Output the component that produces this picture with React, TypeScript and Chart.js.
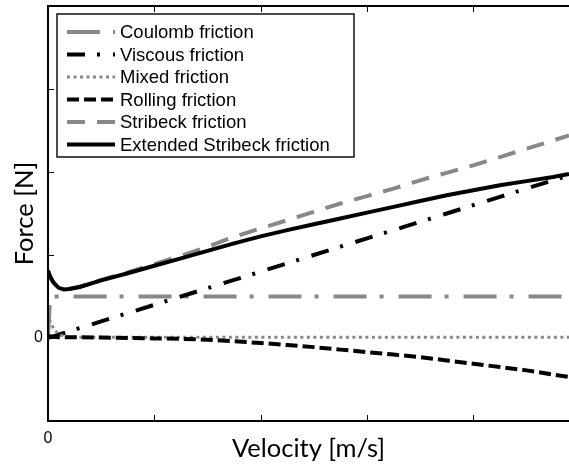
import React, { useEffect, useRef } from 'react';
import { Chart, registerables } from 'chart.js';

Chart.register(...registerables);

// Velocity samples [m/s] (x axis units: one tick = 1)
const velocity = [0, 0.02, 0.05, 0.1, 0.15, 0.2, 0.3, 0.5, 0.75, 1.0, 1.25, 1.5, 1.75, 2.0, 2.25, 2.5, 2.75, 3.0, 3.25, 3.5, 3.75, 4.0, 4.25, 4.5, 4.75, 4.9];

const coulomb = [0, 0.5, 0.5, 0.5, 0.5, 0.5, 0.5, 0.5, 0.5, 0.5, 0.5, 0.5, 0.5, 0.5, 0.5, 0.5, 0.5, 0.5, 0.5, 0.5, 0.5, 0.5, 0.5, 0.5, 0.5, 0.5];
const viscous = [0, 0.01, 0.02, 0.04, 0.06, 0.08, 0.12, 0.2, 0.3, 0.4, 0.5, 0.6, 0.7, 0.8, 0.9, 1.0, 1.1, 1.2, 1.3, 1.4, 1.5, 1.6, 1.7, 1.8, 1.9, 1.96];
const mixed = [0.3, 0.2, 0.12, 0.04, 0.02, 0.01, 0.01, 0.01, 0.01, 0.01, 0.01, 0.01, 0.01, 0.01, 0.01, 0.01, 0.01, 0.01, 0.01, 0.01, 0.01, 0.01, 0.01, 0.01, 0.01, 0.01];
const rolling = [0.01, 0.02, 0.015, 0.01, 0.01, 0.01, 0.01, 0.005, 0.0, -0.005, -0.01, -0.02, -0.04, -0.06, -0.085, -0.11, -0.14, -0.17, -0.2, -0.23, -0.27, -0.31, -0.35, -0.39, -0.44, -0.47];
const stribeck = [0.81, 0.74, 0.67, 0.605, 0.585, 0.59, 0.62, 0.7, 0.79, 0.89, 0.99, 1.1, 1.22, 1.32, 1.42, 1.52, 1.62, 1.71, 1.8, 1.9, 1.99, 2.08, 2.18, 2.28, 2.38, 2.44];
const extended = [0.81, 0.74, 0.67, 0.605, 0.585, 0.59, 0.615, 0.695, 0.78, 0.87, 0.96, 1.05, 1.14, 1.225, 1.3, 1.37, 1.44, 1.51, 1.58, 1.65, 1.72, 1.78, 1.84, 1.89, 1.94, 1.975];

const seriesLabels = ['Coulomb friction', 'Viscous friction', 'Mixed friction', 'Rolling friction', 'Stribeck friction', 'Extended Stribeck friction'];

const xTitle = 'Velocity [m/s]';
const yTitle = 'Force [N]';

const GRAY = '#888888';
const BLACK = '#000000';

const toPoints = (ys: number[]) => ys.map((y, i) => ({ x: velocity[i], y }));

const framePlugin = {
  id: 'frameAndLegend',
  afterDatasetsDraw(chart: any) {
    const { ctx, chartArea: a, scales } = chart;
    const xs = scales.x;
    const ys = scales.y;
    ctx.save();
    // inner tick marks
    ctx.strokeStyle = BLACK;
    ctx.lineWidth = 1;
    ctx.setLineDash([]);
    xs.ticks.forEach((t: any) => {
      const px = Math.round(xs.getPixelForValue(t.value)) + 0.5;
      if (px <= a.left + 2 || px >= a.right - 2) return;
      ctx.beginPath();
      ctx.moveTo(px, a.bottom);
      ctx.lineTo(px, a.bottom - 6);
      ctx.moveTo(px, a.top);
      ctx.lineTo(px, a.top + 6);
      ctx.stroke();
    });
    ys.ticks.forEach((t: any) => {
      const py = Math.round(ys.getPixelForValue(t.value)) + 0.5;
      if (py <= a.top + 2 || py >= a.bottom - 2) return;
      ctx.beginPath();
      ctx.moveTo(a.left, py);
      ctx.lineTo(a.left + 6, py);
      ctx.stroke();
    });
    // frame
    ctx.lineWidth = 2;
    ctx.beginPath();
    ctx.moveTo(a.right + 2, a.top);
    ctx.lineTo(a.left, a.top);
    ctx.lineTo(a.left, a.bottom);
    ctx.lineTo(a.right + 2, a.bottom);
    ctx.stroke();

    // legend
    const bx = a.left + 9;
    const by = a.top + 8;
    const bw = 297;
    const bh = 143;
    ctx.fillStyle = '#ffffff';
    ctx.fillRect(bx, by, bw, bh);
    ctx.lineWidth = 1.5;
    ctx.strokeStyle = '#111111';
    ctx.strokeRect(bx, by, bw, bh);
    ctx.font = '18.5px "Liberation Sans", Arial, sans-serif';
    ctx.textBaseline = 'middle';
    ctx.textAlign = 'left';
    chart.data.datasets.forEach((ds: any, i: number) => {
      const y = by + 18 + i * 22.5;
      ctx.save();
      ctx.strokeStyle = ds.borderColor;
      ctx.lineWidth = ds.borderWidth;
      ctx.setLineDash(ds.borderDash || []);
      ctx.lineDashOffset = 0;
      ctx.beginPath();
      ctx.moveTo(bx + 10, y);
      ctx.lineTo(bx + 58, y);
      ctx.stroke();
      ctx.restore();
      ctx.fillStyle = BLACK;
      ctx.fillText(ds.label, bx + 63, y + 1);
    });
    ctx.restore();
  },
};

export default function App() {
  const canvasRef = useRef<HTMLCanvasElement | null>(null);

  useEffect(() => {
    const canvas = canvasRef.current;
    if (!canvas) return;
    const mk = (i: number, data: number[], color: string, dash: number[], width: number, order: number) => ({
      label: seriesLabels[i],
      data: toPoints(data),
      borderColor: color,
      backgroundColor: color,
      borderWidth: width,
      borderDash: dash,
      pointRadius: 0,
      tension: 0,
      fill: false,
      order,
    });
    const chart = new Chart(canvas, {
      type: 'line',
      data: {
        datasets: [
          mk(0, coulomb, GRAY, [33, 13, 4, 15], 4, 5),
          mk(1, viscous, BLACK, [18, 12, 3, 13], 4, 4),
          mk(2, mixed, GRAY, [3, 3.5], 3, 3),
          mk(3, rolling, BLACK, [12, 5], 4, 2),
          mk(4, stribeck, GRAY, [18, 12], 4, 1),
          mk(5, extended, BLACK, [], 4, 0),
        ],
      },
      options: {
        responsive: false,
        animation: false,
        devicePixelRatio: 1,
        layout: { padding: { top: 6, left: 0, right: 0, bottom: 0 } },
        plugins: {
          legend: { display: false },
          tooltip: { enabled: false },
        },
        scales: {
          x: {
            type: 'linear',
            min: 0,
            max: 4.9,
            grid: { display: false, drawTicks: false },
            border: { display: false },
            ticks: {
              stepSize: 1,
              padding: 8,
              color: BLACK,
              font: { family: '"Liberation Sans", Arial, sans-serif', size: 16 },
              maxRotation: 0,
              callback: (v: any) => (Number(v) === 0 ? '0' : ''),
            },
            title: {
              display: true,
              text: xTitle,
              color: BLACK,
              font: { family: 'Lato, "Open Sans", sans-serif', size: 25.5 },
              padding: { top: 0, bottom: 2 },
            },
            afterFit: (s: any) => {
              s.height = 45;
              s.paddingLeft = 0;
              s.paddingRight = 0;
            },
          },
          y: {
            type: 'linear',
            min: -1,
            max: 4,
            grid: { display: false, drawTicks: false },
            border: { display: false },
            ticks: {
              stepSize: 1,
              padding: 5,
              color: BLACK,
              font: { family: '"Liberation Sans", Arial, sans-serif', size: 16 },
              callback: (v: any) => (Number(v) === 0 ? '0' : ''),
            },
            title: {
              display: true,
              text: yTitle,
              color: BLACK,
              font: { family: 'Lato, "Open Sans", sans-serif', size: 25.5 },
              padding: { top: 9, bottom: 0 },
            },
            afterFit: (s: any) => {
              s.width = 48;
              s.paddingTop = 0;
              s.paddingBottom = 0;
            },
          },
        },
      },
      plugins: [framePlugin],
    } as any);
    return () => chart.destroy();
  }, []);

  return (
    <div style={{ position: 'absolute', left: 0, top: 0, width: 569, height: 466, background: '#fff' }}>
      <canvas ref={canvasRef} width={569} height={466} style={{ display: 'block' }} />
    </div>
  );
}
